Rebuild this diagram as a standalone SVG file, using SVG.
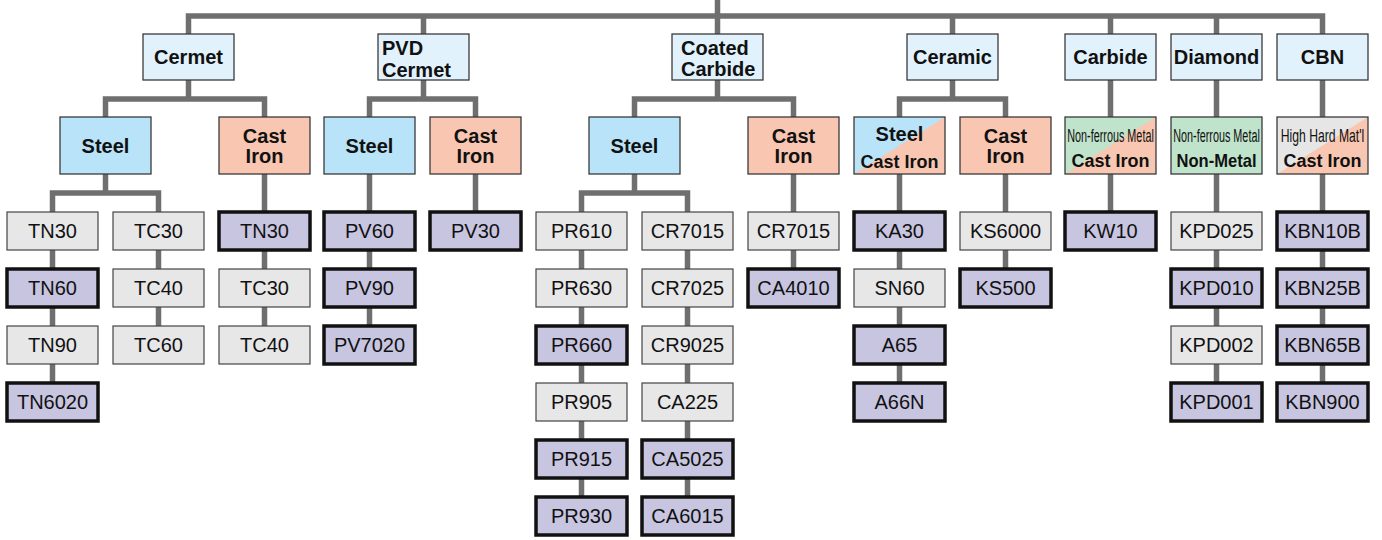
<svg xmlns="http://www.w3.org/2000/svg" width="1382" height="540" viewBox="0 0 1382 540">
<style>
text{font-family:"Liberation Sans",Arial,sans-serif;fill:#111}
.b{font-weight:bold;font-size:20px}
.b18{font-weight:bold;font-size:18px}
.c{text-anchor:middle}
.n{font-size:19px}
.lf{font-size:20px;text-anchor:middle}
.l1{fill:#e1f2fc;stroke:#3a3a3a;stroke-width:1.3}
.st{fill:#b9e3f8;stroke:#3a3a3a;stroke-width:1.3}
.ci{fill:#f9c7b1;stroke:#3a3a3a;stroke-width:1.3}
.fr{fill:none;stroke:#3a3a3a;stroke-width:1.3}
.lg{fill:#e7e7e8;stroke:#444;stroke-width:1.2}
.hl{fill:#c8c5e1;stroke:#111;stroke-width:3.5}
#connectors path{fill:none;stroke:#6f6f6f;stroke-width:5.5;stroke-linejoin:miter;stroke-linecap:butt}
</style>
<g id="connectors">
<path d="M717.5 0V16"/>
<path d="M188.5 34V16H1322.5V34M423.5 16V34M717.5 16V34M952.5 16V34M1110.5 16V34M1216.5 16V34"/>
<path d="M188.5 80V99M105.5 117V99H264.5V117"/>
<path d="M423.5 80V99M369.5 117V99H475.5V117"/>
<path d="M717.5 80V99M634.5 117V99H793.5V117"/>
<path d="M952.5 80V99M899.5 117V99H1005.5V117"/>
<path d="M1110.5 80V117M1216.5 80V117M1322.5 80V117"/>
<path d="M105.5 174V193M52.5 212V193H158.5V212"/>
<path d="M634.5 174V193M581.5 212V193H687.5V212"/>
<path d="M52.5 212V383M158.5 212V326M264.5 174V326M369.5 174V326M475.5 174V212M581.5 212V497M687.5 212V497M793.5 174V269M899.5 174V383M1005.5 174V269M1110.5 174V212M1216.5 174V383M1322.5 174V383"/>
</g>
<g id="cermet"><rect class="l1" x="143" y="34" width="91" height="46"/><text class="b c" x="188.5" y="64">Cermet</text></g>
<g id="pvd-cermet"><rect class="l1" x="378" y="34" width="91" height="46"/><text class="b" x="382" y="55">PVD</text><text class="b" x="382" y="77">Cermet</text></g>
<g id="coated-carbide"><rect class="l1" x="672" y="34" width="91" height="46"/><text class="b" x="681" y="55">Coated</text><text class="b" x="681" y="76">Carbide</text></g>
<g id="ceramic"><rect class="l1" x="907" y="34" width="91" height="46"/><text class="b c" x="952.5" y="64">Ceramic</text></g>
<g id="carbide"><rect class="l1" x="1065" y="34" width="91" height="46"/><text class="b c" x="1110.5" y="64">Carbide</text></g>
<g id="diamond"><rect class="l1" x="1171" y="34" width="91" height="46"/><text class="b c" x="1216.5" y="64">Diamond</text></g>
<g id="cbn"><rect class="l1" x="1277" y="34" width="91" height="46"/><text class="b c" x="1322.5" y="64">CBN</text></g>

<g id="cermet-steel"><rect class="st" x="60" y="117" width="91" height="57"/><text class="b c" x="105.5" y="153">Steel</text></g>
<g id="cermet-castiron"><rect class="ci" x="219" y="117" width="91" height="57"/><text class="b c" x="264.5" y="143">Cast</text><text class="b c" x="264.5" y="163">Iron</text></g>
<g id="pvd-steel"><rect class="st" x="324" y="117" width="91" height="57"/><text class="b c" x="369.5" y="153">Steel</text></g>
<g id="pvd-castiron"><rect class="ci" x="430" y="117" width="91" height="57"/><text class="b c" x="475.5" y="143">Cast</text><text class="b c" x="475.5" y="163">Iron</text></g>
<g id="cc-steel"><rect class="st" x="589" y="117" width="91" height="57"/><text class="b c" x="634.5" y="153">Steel</text></g>
<g id="cc-castiron"><rect class="ci" x="748" y="117" width="91" height="57"/><text class="b c" x="793.5" y="143">Cast</text><text class="b c" x="793.5" y="163">Iron</text></g>
<g id="ceramic-steel-castiron"><rect x="854" y="117" width="91" height="57" fill="#f9c7b1"/><polygon points="854,117 945,117 854,174" fill="#b9e3f8"/><rect class="fr" x="854" y="117" width="91" height="57"/><text class="b c" x="899.5" y="141">Steel</text><text class="b18 c" x="899.5" y="168">Cast Iron</text></g>
<g id="ceramic-castiron"><rect class="ci" x="960" y="117" width="91" height="57"/><text class="b c" x="1005.5" y="143">Cast</text><text class="b c" x="1005.5" y="163">Iron</text></g>
<g id="carbide-nf-castiron"><rect x="1065" y="117" width="91" height="57" fill="#f9c7b1"/><polygon points="1065,117 1156,117 1065,174" fill="#c0e4cb"/><rect class="fr" x="1065" y="117" width="91" height="57"/><text class="n c" transform="translate(1110.5 142) scale(0.57 1)">Non-ferrous Metal</text><text class="b18 c" x="1110.5" y="167">Cast Iron</text></g>
<g id="diamond-nf-nonmetal"><rect x="1171" y="117" width="91" height="57" fill="#c0e4cb" stroke="#3a3a3a" stroke-width="1.3"/><text class="n c" transform="translate(1216.5 142) scale(0.57 1)">Non-ferrous Metal</text><text class="b18 c" transform="translate(1216.5 167) scale(0.92 1)">Non-Metal</text></g>
<g id="cbn-highhard-castiron"><rect x="1277" y="117" width="91" height="57" fill="#f9c7b1"/><polygon points="1277,117 1368,117 1277,174" fill="#e6e6e6"/><rect class="fr" x="1277" y="117" width="91" height="57"/><text class="n c" transform="translate(1322.5 142) scale(0.64 1)">High Hard Mat'l</text><text class="b18 c" x="1322.5" y="167">Cast Iron</text></g>

<g id="tn30-a"><rect class="lg" x="7" y="212" width="91" height="38"/><text class="lf" x="52.5" y="238">TN30</text></g>
<g id="tn60"><rect class="hl" x="7" y="269" width="91" height="38"/><text class="lf" x="52.5" y="295">TN60</text></g>
<g id="tn90"><rect class="lg" x="7" y="326" width="91" height="38"/><text class="lf" x="52.5" y="352">TN90</text></g>
<g id="tn6020"><rect class="hl" x="7" y="383" width="91" height="38"/><text class="lf" x="52.5" y="409">TN6020</text></g>

<g id="tc30-a"><rect class="lg" x="113" y="212" width="91" height="38"/><text class="lf" x="158.5" y="238">TC30</text></g>
<g id="tc40-a"><rect class="lg" x="113" y="269" width="91" height="38"/><text class="lf" x="158.5" y="295">TC40</text></g>
<g id="tc60"><rect class="lg" x="113" y="326" width="91" height="38"/><text class="lf" x="158.5" y="352">TC60</text></g>

<g id="tn30-b"><rect class="hl" x="219" y="212" width="91" height="38"/><text class="lf" x="264.5" y="238">TN30</text></g>
<g id="tc30-b"><rect class="lg" x="219" y="269" width="91" height="38"/><text class="lf" x="264.5" y="295">TC30</text></g>
<g id="tc40-b"><rect class="lg" x="219" y="326" width="91" height="38"/><text class="lf" x="264.5" y="352">TC40</text></g>

<g id="pv60"><rect class="hl" x="324" y="212" width="91" height="38"/><text class="lf" x="369.5" y="238">PV60</text></g>
<g id="pv90"><rect class="hl" x="324" y="269" width="91" height="38"/><text class="lf" x="369.5" y="295">PV90</text></g>
<g id="pv7020"><rect class="hl" x="324" y="326" width="91" height="38"/><text class="lf" x="369.5" y="352">PV7020</text></g>

<g id="pv30"><rect class="hl" x="430" y="212" width="91" height="38"/><text class="lf" x="475.5" y="238">PV30</text></g>

<g id="pr610"><rect class="lg" x="536" y="212" width="91" height="38"/><text class="lf" x="581.5" y="238">PR610</text></g>
<g id="pr630"><rect class="lg" x="536" y="269" width="91" height="38"/><text class="lf" x="581.5" y="295">PR630</text></g>
<g id="pr660"><rect class="hl" x="536" y="326" width="91" height="38"/><text class="lf" x="581.5" y="352">PR660</text></g>
<g id="pr905"><rect class="lg" x="536" y="383" width="91" height="38"/><text class="lf" x="581.5" y="409">PR905</text></g>
<g id="pr915"><rect class="hl" x="536" y="440" width="91" height="38"/><text class="lf" x="581.5" y="466">PR915</text></g>
<g id="pr930"><rect class="hl" x="536" y="497" width="91" height="38"/><text class="lf" x="581.5" y="523">PR930</text></g>

<g id="cr7015-a"><rect class="lg" x="642" y="212" width="91" height="38"/><text class="lf" x="687.5" y="238">CR7015</text></g>
<g id="cr7025"><rect class="lg" x="642" y="269" width="91" height="38"/><text class="lf" x="687.5" y="295">CR7025</text></g>
<g id="cr9025"><rect class="lg" x="642" y="326" width="91" height="38"/><text class="lf" x="687.5" y="352">CR9025</text></g>
<g id="ca225"><rect class="lg" x="642" y="383" width="91" height="38"/><text class="lf" x="687.5" y="409">CA225</text></g>
<g id="ca5025"><rect class="hl" x="642" y="440" width="91" height="38"/><text class="lf" x="687.5" y="466">CA5025</text></g>
<g id="ca6015"><rect class="hl" x="642" y="497" width="91" height="38"/><text class="lf" x="687.5" y="523">CA6015</text></g>

<g id="cr7015-b"><rect class="lg" x="748" y="212" width="91" height="38"/><text class="lf" x="793.5" y="238">CR7015</text></g>
<g id="ca4010"><rect class="hl" x="748" y="269" width="91" height="38"/><text class="lf" x="793.5" y="295">CA4010</text></g>

<g id="ka30"><rect class="hl" x="854" y="212" width="91" height="38"/><text class="lf" x="899.5" y="238">KA30</text></g>
<g id="sn60"><rect class="lg" x="854" y="269" width="91" height="38"/><text class="lf" x="899.5" y="295">SN60</text></g>
<g id="a65"><rect class="hl" x="854" y="326" width="91" height="38"/><text class="lf" x="899.5" y="352">A65</text></g>
<g id="a66n"><rect class="hl" x="854" y="383" width="91" height="38"/><text class="lf" x="899.5" y="409">A66N</text></g>

<g id="ks6000"><rect class="lg" x="960" y="212" width="91" height="38"/><text class="lf" x="1005.5" y="238">KS6000</text></g>
<g id="ks500"><rect class="hl" x="960" y="269" width="91" height="38"/><text class="lf" x="1005.5" y="295">KS500</text></g>

<g id="kw10"><rect class="hl" x="1065" y="212" width="91" height="38"/><text class="lf" x="1110.5" y="238">KW10</text></g>

<g id="kpd025"><rect class="lg" x="1171" y="212" width="91" height="38"/><text class="lf" x="1216.5" y="238">KPD025</text></g>
<g id="kpd010"><rect class="hl" x="1171" y="269" width="91" height="38"/><text class="lf" x="1216.5" y="295">KPD010</text></g>
<g id="kpd002"><rect class="lg" x="1171" y="326" width="91" height="38"/><text class="lf" x="1216.5" y="352">KPD002</text></g>
<g id="kpd001"><rect class="hl" x="1171" y="383" width="91" height="38"/><text class="lf" x="1216.5" y="409">KPD001</text></g>

<g id="kbn10b"><rect class="hl" x="1277" y="212" width="91" height="38"/><text class="lf" x="1322.5" y="238">KBN10B</text></g>
<g id="kbn25b"><rect class="hl" x="1277" y="269" width="91" height="38"/><text class="lf" x="1322.5" y="295">KBN25B</text></g>
<g id="kbn65b"><rect class="hl" x="1277" y="326" width="91" height="38"/><text class="lf" x="1322.5" y="352">KBN65B</text></g>
<g id="kbn900"><rect class="hl" x="1277" y="383" width="91" height="38"/><text class="lf" x="1322.5" y="409">KBN900</text></g>
</svg>
